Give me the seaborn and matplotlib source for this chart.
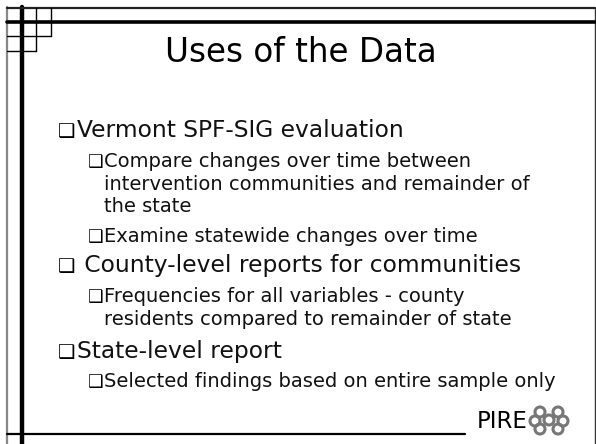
import matplotlib
matplotlib.use('Agg')
import matplotlib.pyplot as plt
from matplotlib.patches import Circle
import seaborn as sns

# ================================================ CONTENT =============================================================

TITLE = 'Uses of the Data'
LINE_TEXTS = [
    'Vermont SPF-SIG evaluation',
    'Compare changes over time between',
    'intervention communities and remainder of',
    'the state',
    'Examine statewide changes over time',
    ' County-level reports for communities',
    'Frequencies for all variables - county',
    'residents compared to remainder of state',
    'State-level report',
    'Selected findings based on entire sample only',
]
LINE_LEVELS = [1, 2, 2, 2, 2, 1, 2, 2, 1, 2]
LINE_HAS_BULLET = [True, True, False, False, True, True, True, False, True, True]
LOGO_TEXT = 'PIRE'

# ================================================ LAYOUT ==============================================================

W, H = 596, 444
LINE_BASELINES = [137, 167, 190, 212, 242, 272, 302, 325, 358, 387]
BULLET_X = {1: 58, 2: 88}
TEXT_X = {1: 77, 2: 104}
TEXT_SIZE = {1: 16.8, 2: 14}
BULLET_SIZE = {1: 14, 2: 12.5}
BOX = '\u2751'

sns.set_theme(style='white')
plt.rcParams['font.family'] = ['DejaVu Sans']

fig = plt.figure(figsize=(W / 100, H / 100), dpi=100)
ax = fig.add_axes([0, 0, 1, 1])
ax.set_xlim(0, W)
ax.set_ylim(H, 0)
ax.axis('off')

# frame lines of the slide template
ax.plot([7, 7], [7, H], color='#888888', lw=1.6)
ax.plot([22, 22], [7, H], color='black', lw=3.2)
ax.plot([595, 595], [8, H], color='#333333', lw=1.0)
ax.plot([7, 595], [8, 8], color='#222222', lw=1.6)
ax.plot([7, 595], [22, 22], color='black', lw=2.6)
ax.plot([7, 51], [36, 36], color='black', lw=1.0)
ax.plot([7, 36], [51, 51], color='black', lw=1.0)
ax.plot([36, 36], [8, 51], color='black', lw=1.0)
ax.plot([51, 51], [8, 36], color='black', lw=1.0)
ax.plot([7, 465], [434, 434], color='black', lw=1.6)

# title
ax.text(301, 62, TITLE, ha='center', va='baseline', fontsize=23.5, color='black')

# bullet lines
for text, level, bullet, base in zip(LINE_TEXTS, LINE_LEVELS, LINE_HAS_BULLET, LINE_BASELINES):
    if bullet:
        ax.text(BULLET_X[level], base, BOX, ha='left', va='baseline',
                fontsize=BULLET_SIZE[level], color='black')
    ax.text(TEXT_X[level], base, text, ha='left', va='baseline',
            fontsize=TEXT_SIZE[level], color='#111111')

# logo
ax.text(477, 428, LOGO_TEXT, ha='left', va='baseline', fontsize=16.5, color='black')
for cx, cy in [(540, 412), (558, 412), (535, 421), (563, 421), (540, 429), (558, 429), (549, 420)]:
    ax.add_patch(Circle((cx, cy), 5.0, fill=False, edgecolor='#777777', lw=2.2))

fig.savefig('out.png', dpi=100)
